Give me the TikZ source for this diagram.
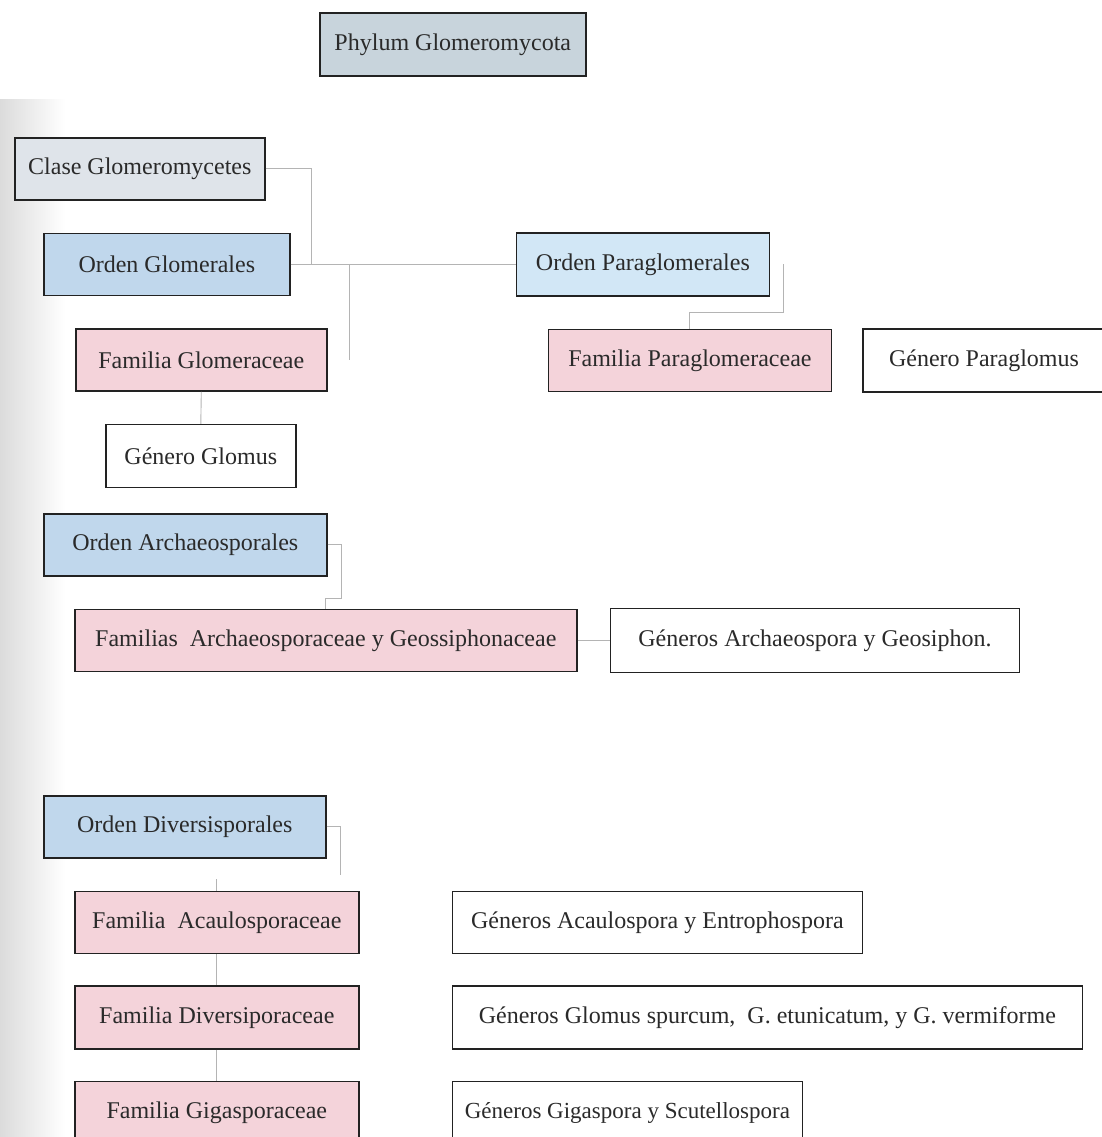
\documentclass[tikz,border=0pt]{standalone}
\usepackage{fontspec}
\setmainfont{Liberation Serif}
\usepackage{tikz}
\usetikzlibrary{positioning,calc}
\definecolor{phylumfill}{HTML}{C8D4DC}
\definecolor{clasefill}{HTML}{DFE4EA}
\definecolor{ordenfill}{HTML}{C0D7EC}
\definecolor{ordenfillalt}{HTML}{D2E7F6}
\definecolor{familiafill}{HTML}{F4D3DA}
\definecolor{boxline}{HTML}{222222}
\definecolor{inkgray}{HTML}{2A2A2A}
\definecolor{linkgray}{HTML}{B4B4B4}

\begin{document}
\begin{tikzpicture}[x=1pt, y=-1pt,
  box/.style={draw=boxline, line width=1.6pt, inner sep=0pt, minimum height=62pt, align=center, font=\fontsize{24}{28}\selectfont, text=inkgray},
  phylum/.style={box, fill=phylumfill},
  clase/.style={box, fill=clasefill},
  orden/.style={box, fill=ordenfill},
  familia/.style={box, fill=familiafill},
  genero/.style={box, fill=white},
  link/.style={draw=linkgray, line width=0.9pt},
]
  \useasboundingbox[fill=white] (0,0) rectangle (1102,1137);
  \fill[left color=black!14, right color=white] (0,100) rectangle (65,1137);

  \node[phylum, minimum width=266pt, minimum height=63pt, anchor=north west] (phylum) at (319,12) {Phylum Glomeromycota};
  \node[clase, minimum width=250pt, anchor=north west] (clase) at (14,137) {Clase Glomeromycetes};
  \node[orden, minimum width=246pt, below right=32pt and 29pt of clase.south west] (oglom) {Orden Glomerales};
  \node[familia, minimum width=251pt, below right=32pt and 32pt of oglom.south west] (fglom) {Familia Glomeraceae};
  \node[genero, minimum width=190pt, minimum height=63pt, below right=32pt and 30pt of fglom.south west] (gglom) {Género Glomus};

  \node[orden, fill=ordenfillalt, minimum width=253pt, minimum height=63pt, right=225pt of oglom] (opara) {Orden Paraglomerales};
  \node[familia, minimum width=283pt, below right=32pt and 32pt of opara.south west] (fpara) {Familia Paraglomeraceae};
  \node[genero, minimum width=242pt, minimum height=63pt, right=30pt of fpara] (gpara) {Género Paraglomus};

  \node[orden, minimum width=283pt, anchor=north west] (oarch) at (43,513) {Orden Archaeosporales};
  \node[familia, minimum width=502pt, below right=32pt and 31pt of oarch.south west] (farch) {Familias\ \ Archaeosporaceae y Geossiphonaceae};
  \node[genero, minimum width=409pt, minimum height=64pt, right=32pt of farch] (garch) {Géneros Archaeospora y Geosiphon.};

  \node[orden, minimum width=282pt, anchor=north west] (odiv) at (43,795) {Orden Diversisporales};
  \node[familia, minimum width=284pt, below right=32pt and 31pt of odiv.south west] (facau) {Familia\ \ Acaulosporaceae};
  \node[genero, minimum width=410pt, right=92pt of facau] (gacau) {Géneros Acaulospora y Entrophospora};
  \node[familia, minimum width=284pt, minimum height=63pt, below=31pt of facau] (fdiv) {Familia Diversiporaceae};
  \node[genero, minimum width=630pt, minimum height=63pt, right=92pt of fdiv] (gdiv) {Géneros Glomus spurcum,\ \ G. etunicatum, y G. vermiforme};
  \node[familia, minimum width=284pt, below=31pt of fdiv] (fgiga) {Familia Gigasporaceae};
  \node[genero, minimum width=350pt, right=92pt of fgiga, font=\fontsize{23}{27}\selectfont] (ggiga) {Géneros Gigaspora y Scutellospora};

  % joints
  \coordinate (hubglom) at ($(oglom.east)+(21pt,0)$);
  \coordinate (hubfam) at ($(oglom.east)+(59pt,0)$);
  \coordinate (hubpara) at ($(opara.east)+(13pt,0)$);

  \draw[link] (clase.east) -| (hubglom);
  \draw[link] (oglom.east) -- (opara.west);
  \draw[link] (hubfam) -- (hubfam |- fglom.east);
  \draw[link] (fglom.south) -- (gglom.north);
  \draw[link] (hubpara) |- ($(fpara.north)+(0,16pt)$) -- (fpara.north);
  \draw[link] (oarch.east) -- ++(14pt,0) |- ($(farch.north)+(0,10pt)$) -- (farch.north);
  \draw[link] (farch.east) -- (garch.west);
  \draw[link] (odiv.east) -- ++(14pt,0) -- ++(0,-48pt);
  \draw[link] (facau.north) -- ++(0,12pt);
  \draw[link] (facau.south) -- (fdiv.north);
  \draw[link] (fdiv.south) -- (fgiga.north);
\end{tikzpicture}
\end{document}
